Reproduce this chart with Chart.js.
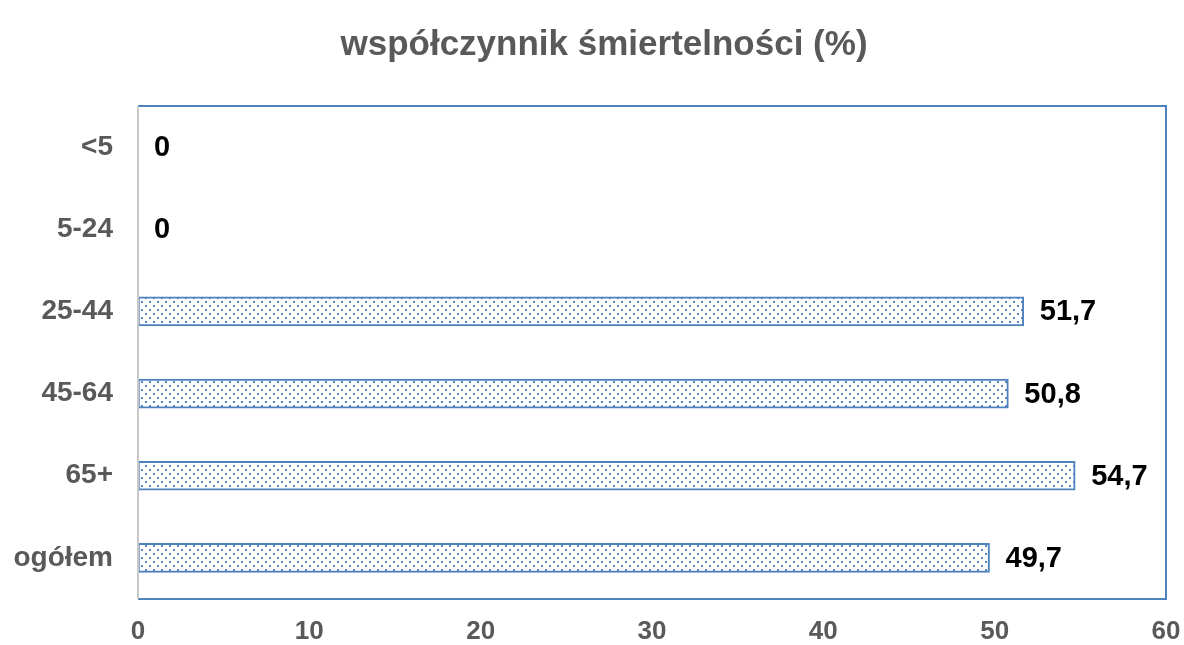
<!DOCTYPE html>
<html>
<head>
<meta charset="utf-8">
<script src="https://cdn.jsdelivr.net/npm/chart.js@4/dist/chart.umd.min.js"></script>
<style>
  html, body { margin: 0; padding: 0; background: #fff; }
  canvas { display: block; }
</style>
</head>
<body>
<canvas id="chart" width="1184" height="645"></canvas>
<script>
const categories = ["<5", "5-24", "25-44", "45-64", "65+", "ogółem"];
const mortality  = [0, 0, 51.7, 50.8, 54.7, 49.7];
const xTicks     = [0, 10, 20, 30, 40, 50, 60];
const title      = "współczynnik śmiertelności (%)";

const BLUE = "#4f81bd", GREY = "#595959";
const FONT = "'Liberation Sans', Arial, sans-serif";

// dotted fill like the office "5%" pattern
function dotPattern() {
  const t = document.createElement("canvas");
  t.width = 8; t.height = 8;
  const g = t.getContext("2d");
  g.fillStyle = "#fff"; g.fillRect(0, 0, 8, 8);
  g.fillStyle = "rgba(79,129,189,0.95)";
  g.fillRect(1, 1, 2, 2);
  g.fillRect(5, 5, 2, 2);
  return document.getElementById("chart").getContext("2d").createPattern(t, "repeat");
}

const frame = {
  id: "frame",
  afterDatasetsDraw(chart) {
    const { ctx, chartArea: a } = chart;
    ctx.save();
    // title
    ctx.fillStyle = GREY;
    ctx.font = "bold 35px " + FONT;
    ctx.textAlign = "center"; ctx.textBaseline = "middle";
    ctx.fillText(title, 604, 45);

    ctx.strokeStyle = BLUE; ctx.lineWidth = 2;
    ctx.beginPath();
    ctx.moveTo(a.left, a.top); ctx.lineTo(a.right, a.top);
    ctx.lineTo(a.right, a.bottom); ctx.lineTo(a.left, a.bottom);
    ctx.stroke();
    ctx.strokeStyle = "#c8c8c8";
    ctx.beginPath(); ctx.moveTo(a.left, a.top); ctx.lineTo(a.left, a.bottom); ctx.stroke();

    // value labels at bar ends
    const meta = chart.getDatasetMeta(0);
    ctx.fillStyle = "#000";
    ctx.font = "bold 29px " + FONT;
    ctx.textBaseline = "middle"; ctx.textAlign = "left";
    meta.data.forEach((bar, i) => {
      const txt = String(mortality[i]).replace(".", ",");
      ctx.fillText(txt, bar.x + 16, bar.y + 1);
    });
    ctx.restore();
  }
};

new Chart(document.getElementById("chart"), {
  type: "bar",
  data: {
    labels: categories,
    datasets: [{
      data: mortality,
      backgroundColor: dotPattern(),
      borderColor: BLUE,
      borderWidth: 2,
      borderSkipped: false,
      barThickness: 29,
    }],
  },
  options: {
    indexAxis: "y",
    responsive: false,
    animation: false,
    layout: { padding: { left: 0, right: 0, top: 106, bottom: 0 } },
    plugins: {
      legend: { display: false },
      tooltip: { enabled: false },
      title: { display: false },
    },
    scales: {
      x: {
        min: 0, max: 60,
        afterBuildTicks: s => { s.ticks = xTicks.map(v => ({ value: v })); },
        grid: { display: false, drawTicks: false },
        border: { display: false },
        ticks: { color: GREY, padding: 17, font: { family: FONT, size: 26, weight: "bold" } },
        afterFit: s => { s.height = 46; s.paddingRight = 18; },
      },
      y: {
        grid: { display: false, drawTicks: false },
        border: { display: false },
        ticks: { color: GREY, padding: 25, font: { family: FONT, size: 28, weight: "bold" } },
        afterFit: s => { s.width = 138; },
      },
    },
  },
  plugins: [frame],
});
</script>
</body>
</html>
